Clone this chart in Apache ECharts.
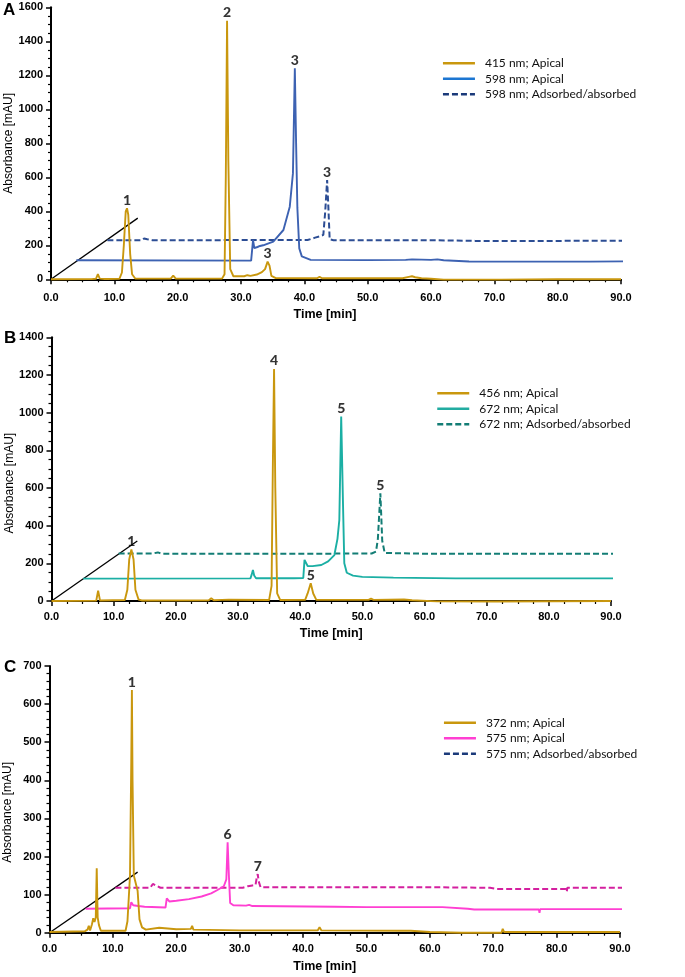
<!doctype html>
<html>
<head>
<meta charset="UTF-8">
<title>Chromatograms A-C</title>
<script src="https://cdn.jsdelivr.net/npm/echarts@6.0.0/dist/echarts.min.js"></script>
<style>
	html, body { margin: 0; padding: 0; background: #fff; }
	#chart { width: 685px; height: 977px; }
</style>
</head>
<body>
<div id="chart"></div>
<script type="text/javascript">
// panel A : [time, mAU]
var a415Apical = [[0,0],[5.8,1],[6.1,8],[6.4,1],[7.1,3],[7.4,30],[7.7,4],[8.5,2],[8.7,12],[8.9,2],[10.8,3],[11.2,40],[11.5,200],[11.8,400],[12.0,418],[12.2,380],[12.5,150],[12.8,30],[13.3,5],[18.9,4],[19.3,22],[19.7,4],[27.0,4],[27.4,30],[27.6,600],[27.8,1521],[28.0,700],[28.3,60],[28.8,18],[30.5,18],[31.0,24],[31.5,20],[32.5,28],[33.3,42],[33.8,60],[34.2,104],[34.5,80],[34.8,20],[35.5,7],[42.0,6],[42.4,14],[42.8,6],[55.5,6],[56.5,14],[57.0,18],[57.5,12],[58.5,6],[60,3],[62,-2],[71.1,-2],[71.2,-6],[71.3,0],[80,0],[90,0]];
var a598Apical = [[4.0,112],[31.6,110],[31.8,112],[31.9,230],[32.1,184],[32.6,190],[33.0,196],[33.2,206],[33.5,200],[35.1,222],[36.7,290],[37.7,427],[38.2,623],[38.5,1241],[38.7,800],[38.9,420],[39.2,182],[39.6,135],[41,114],[50,113],[56,114],[57,117],[60,114],[61,117],[62,112],[66,105],[75.4,104],[75.5,96],[75.6,104],[85,104],[94.0,106]];
var a598Ads = [[8.9,230],[14.3,230],[14.7,240],[15.2,236],[16,230],[40.5,231],[41.7,245],[42.4,252],[43.0,261],[43.3,400],[43.6,584],[43.8,420],[44.0,235],[44.6,230],[60,230],[67,226],[80.7,226],[80.8,218],[80.9,228],[99.3,228]];
var diagA = [[0,0],[13.7,360]];
var peaksA = [[12.0,418,'1'],[27.8,1521,'2'],[38.5,1241,'3'],[43.6,584,'3'],[34.2,104,'3']];
var legendA = ['415 nm; Apical','598 nm; Apical','598 nm; Adsorbed/absorbed'];

// panel B
var b456Apical = [[0,0],[7.2,2],[7.5,55],[7.8,3],[11.8,5],[12.2,60],[12.5,220],[12.85,274],[13.2,220],[13.5,60],[14.0,8],[14.5,3],[25.3,4],[25.7,14],[26.1,4],[27.4,6],[28.5,7],[35.0,5],[35.4,80],[35.6,700],[35.8,1232],[36.0,600],[36.3,40],[36.8,5],[40.8,6],[41.2,40],[41.7,94],[42.1,40],[42.6,6],[51.0,6],[51.4,12],[51.8,6],[56.7,8],[58,4],[62,-2],[71.4,-3],[71.5,-7],[71.6,0],[90,0]];
var b672Apical = [[5.1,119],[32.0,120],[32.2,140],[32.4,165],[32.6,135],[32.9,121],[38.4,121],[38.7,130],[39.0,121],[40.5,122],[40.7,218],[41.2,186],[42.0,185],[43.4,191],[44.5,210],[45.5,244],[46.0,330],[46.3,430],[46.6,979],[46.9,500],[47.1,200],[47.5,150],[48.5,135],[50,128],[55,124],[65,120],[76.4,120],[76.5,112],[76.6,120],[95.1,120]];
var b672Ads = [[10.8,252],[16.3,252],[16.6,262],[17.1,258],[17.8,251],[38.3,251],[38.5,256],[38.7,251],[51.5,252],[52.2,262],[52.5,330],[52.9,572],[53.2,320],[53.6,255],[60,251],[82.9,251],[83.0,246],[83.1,253],[102,252]];
var diagB = [[0,0],[13.8,319]];
var peaksB = [[12.85,274,'1'],[35.8,1232,'4'],[46.6,979,'5'],[52.9,572,'5'],[41.7,94,'5']];
var legendB = ['456 nm; Apical','672 nm; Apical','672 nm; Adsorbed/absorbed'];

// panel C
var c372Apical = [[0,2],[5.6,4],[6.0,8],[6.2,18],[6.4,6],[6.7,22],[6.9,38],[7.1,28],[7.3,40],[7.45,169],[7.6,40],[7.8,20],[8.1,5],[12.0,5],[12.3,30],[12.7,150],[12.9,450],[13.0,637],[13.1,400],[13.3,150],[13.6,145],[13.9,110],[14.2,35],[14.6,14],[15.2,8],[17.3,13],[20,9],[22.3,10],[22.5,18],[22.7,8],[30,6],[42.3,6],[42.6,14],[42.9,6],[55,5],[57,5],[60,2],[65,0],[71.3,0],[71.5,10],[71.7,2],[90,2]];
var c575Apical = [[5.7,63],[12.7,64],[12.9,80],[13.2,72],[14.0,70],[15.0,68],[18.3,66],[18.5,90],[18.9,82],[20,84],[22,88],[24,95],[25.5,103],[26.5,112],[27.5,122],[27.9,140],[28.1,237],[28.3,150],[28.5,78],[29.0,72],[31,71],[31.5,73],[32,70],[45,68],[50,67],[62,67],[66,63],[67,61],[77.2,61],[77.3,52],[77.4,62],[96,62]];
var c575Ads = [[10.4,118],[15.9,118],[16.3,128],[16.8,124],[17.5,118],[30.5,118],[31.3,122],[32.0,124],[32.5,125],[32.7,145],[32.85,154],[33.0,135],[33.3,119],[45,119],[62,119],[69.5,118],[70.5,115],[81.5,115],[81.6,108],[81.7,118],[100.3,118]];
var diagC = [[0,0],[13.9,159]];
var peaksC = [[13.0,637,'1'],[28.1,237,'6'],[32.85,154,'7']];
var legendC = ['372 nm; Apical','575 nm; Apical','575 nm; Adsorbed/absorbed'];

var GOLD = '#c9970e';
var BLUE = '#3d62b2';
var NAVY = '#2c4d94';
var TEAL = '#1bafa4';
var TEAL_DARK = '#137d75';
var PINK = '#ff3fd2';
var PINK_DARK = '#d4209f';

function trace(name, data, color, dashed, idx) {
	return {
		name: name,
		type: 'line',
		data: data,
		xAxisIndex: idx,
		yAxisIndex: idx,
		symbol: 'none',
		clip: false,
		silent: true,
		lineStyle: {
			color: color,
			width: dashed ? 2 : 1.9,
			type: dashed ? [6, 3] : 'solid'
		},
		itemStyle: { color: color }
	};
}

function diag(data, idx) {
	return {
		type: 'line',
		data: data,
		xAxisIndex: idx,
		yAxisIndex: idx,
		symbol: 'none',
		silent: true,
		lineStyle: { color: '#000', width: 1.3 }
	};
}

function peakLabels(data, idx) {
	return {
		type: 'scatter',
		data: data,
		xAxisIndex: idx,
		yAxisIndex: idx,
		symbolSize: 0,
		silent: true,
		itemStyle: { color: 'rgba(0,0,0,0)' },
		label: {
			show: true,
			position: 'top',
			distance: 1,
			formatter: function(p) { return p.value[2]; },
			fontFamily: 'Lato',
			fontWeight: 900,
			fontSize: 14,
			color: '#000'
		}
	};
}

function xAx(idx, offset, namePad) {
	return {
		type: 'value',
		gridIndex: idx,
		min: 0,
		max: 90,
		interval: 10,
		offset: offset,
		axisLine: { show: true, lineStyle: { color: '#000', width: 2 } },
		axisTick: { show: true, length: 5, lineStyle: { color: '#000', width: 1.5 } },
		minorTick: { show: true, splitNumber: 4, length: 3, lineStyle: { color: '#000', width: 1.2 } },
		splitLine: { show: false },
		minorSplitLine: { show: false },
		axisLabel: {
			formatter: function(v) { return v.toFixed(1); },
			fontFamily: 'Liberation Sans',
			fontWeight: 'bold',
			fontSize: 11,
			color: '#000',
			margin: 4
		},
		name: 'Time [min]',
		nameLocation: 'middle',
		nameGap: 20,
		nameMoveOverlap: false,
		nameTextStyle: {
			fontFamily: 'Liberation Sans',
			fontWeight: 'bold',
			fontSize: 12.5,
			color: '#000',
			padding: namePad
		}
	};
}

function yAx(idx, max, interval, minor, namePad) {
	return {
		type: 'value',
		gridIndex: idx,
		min: 0,
		max: max,
		interval: interval,
		offset: 2,
		axisLine: { show: true, lineStyle: { color: '#000', width: 2 } },
		axisTick: { show: true, length: 5, lineStyle: { color: '#000', width: 1.5 } },
		minorTick: { show: true, splitNumber: minor, length: 3, lineStyle: { color: '#000', width: 1.2 } },
		splitLine: { show: false },
		minorSplitLine: { show: false },
		axisLabel: {
			formatter: function(v) { return String(v); },
			fontFamily: 'Liberation Sans',
			fontWeight: 'bold',
			fontSize: 11,
			color: '#000',
			margin: 6
		},
		name: 'Absorbance [mAU]',
		nameLocation: 'middle',
		nameGap: 34,
		nameMoveOverlap: false,
		nameTextStyle: {
			fontFamily: 'Liberation Sans',
			fontSize: 12,
			color: '#000',
			padding: namePad
		}
	};
}

function legendItems(names, colors, types) {
	var items = [];
	for(var i = 0; i < names.length; i++) {
		items.push({
			name: names[i],
			itemStyle: { color: colors[i], opacity: 0, borderWidth: 0 },
			lineStyle: { color: colors[i], width: 2.5, type: types[i] }
		});
	}
	return items;
}

function legendBox(left, top, items) {
	return {
		orient: 'vertical',
		left: left,
		top: top,
		padding: 0,
		itemWidth: 32,
		itemHeight: 12,
		itemGap: 3.5,
		selectedMode: false,
		data: items,
		textStyle: {
			fontFamily: 'Lato',
			fontSize: 12,
			color: '#111',
			padding: [0, 0, 0, 5]
		}
	};
}

var option = {
	animation: false,
	backgroundColor: '#fff',
	grid: [
		{ left: 51, top: 7.3, width: 570, height: 272, outerBoundsMode: 'none' },
		{ left: 51.5, top: 337.3, width: 559.5, height: 263.7, outerBoundsMode: 'none' },
		{ left: 49.5, top: 666, width: 570.5, height: 266.7, outerBoundsMode: 'none' }
	],
	xAxis: [
		xAx(0, 9, [0, 22, 0, 0]),
		xAx(1, 6, [0, 0, 0, 0]),
		xAx(2, 7, [0, 20, 0, 0])
	],
	yAxis: [
		yAx(0, 1600, 200, 4, [0, 0, 0, 0]),
		yAx(1, 1400, 200, 4, [0, 28, 0, 0]),
		yAx(2, 700, 100, 5, [0, 26, 0, 0])
	],
	legend: [
		legendBox(441.7, 57.3, legendItems(legendA, ['#c9970e', '#1c76d2', '#1b3a7a'], ['solid', 'solid', [6, 3]])),
		legendBox(436, 387.3, legendItems(legendB, ['#c9970e', '#22aca1', '#137d75'], ['solid', 'solid', [6, 3]])),
		legendBox(442.7, 716.7, legendItems(legendC, ['#c9970e', '#ff3fd2', '#1b3a7a'], ['solid', 'solid', [6, 3]]))
	],
	graphic: [
		{ type: 'text', left: 3, top: 2, style: { text: 'A', font: 'bold 17px "Liberation Sans"', fill: '#000' } },
		{ type: 'text', left: 4, top: 330, style: { text: 'B', font: 'bold 17px "Liberation Sans"', fill: '#000' } },
		{ type: 'text', left: 4, top: 659, style: { text: 'C', font: 'bold 17px "Liberation Sans"', fill: '#000' } }
	],
	series: [
		diag(diagA, 0),
		trace(legendA[2], a598Ads, NAVY, true, 0),
		trace(legendA[1], a598Apical, BLUE, false, 0),
		trace(legendA[0], a415Apical, GOLD, false, 0),
		peakLabels(peaksA, 0),

		diag(diagB, 1),
		trace(legendB[2], b672Ads, TEAL_DARK, true, 1),
		trace(legendB[1], b672Apical, TEAL, false, 1),
		trace(legendB[0], b456Apical, GOLD, false, 1),
		peakLabels(peaksB, 1),

		diag(diagC, 2),
		trace(legendC[2], c575Ads, PINK_DARK, true, 2),
		trace(legendC[1], c575Apical, PINK, false, 2),
		trace(legendC[0], c372Apical, GOLD, false, 2),
		peakLabels(peaksC, 2)
	]
};

var chart = echarts.init(document.getElementById('chart'));
chart.setOption(option);
</script>
</body>
</html>
